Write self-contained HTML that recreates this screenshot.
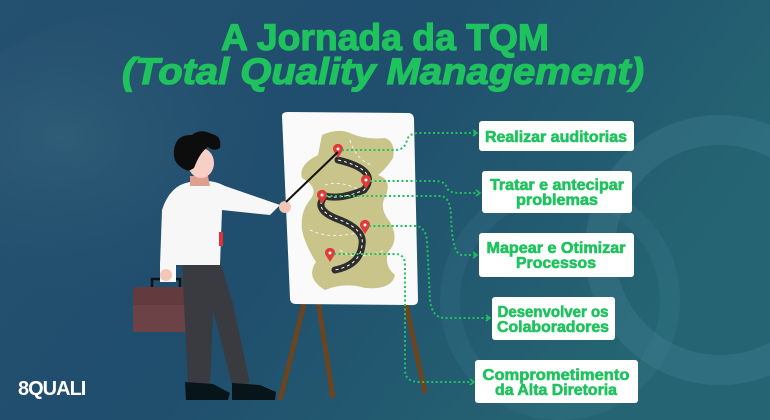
<!DOCTYPE html>
<html><head><meta charset="utf-8"><style>
html,body{margin:0;padding:0}
body{width:770px;height:420px;overflow:hidden;font-family:"Liberation Sans",sans-serif;background:#1f4a68}
svg{display:block}
</style></head><body>
<svg width="770" height="420" viewBox="0 0 770 420" xmlns="http://www.w3.org/2000/svg">
<defs>
<linearGradient id="bg" x1="0" y1="0" x2="1" y2="0.4">
<stop offset="0" stop-color="#2a5573"/><stop offset="0.5" stop-color="#22506f"/><stop offset="1" stop-color="#2a7478"/>
</linearGradient>
<radialGradient id="tr" cx="0.3" cy="0.4" r="0.6"><stop offset="0" stop-color="#3a6a80" stop-opacity="0.5"/><stop offset="1" stop-color="#1f4a68" stop-opacity="0"/></radialGradient>
</defs>
<rect width="770" height="420" fill="url(#bg)"/>
<rect width="770" height="420" fill="#1d4a6a" opacity="0.35"/>
<ellipse cx="150" cy="170" rx="220" ry="160" fill="url(#tr)"/>
<circle cx="720" cy="250" r="120" fill="none" stroke="#4d8aa0" stroke-opacity="0.25" stroke-width="30"/>
<circle cx="560" cy="300" r="110" fill="none" stroke="#4d8aa0" stroke-opacity="0.15" stroke-width="20"/>
<g fill="#1ec35e" stroke="#1ec35e" stroke-width="1.2" font-family="Liberation Sans" font-weight="bold" font-size="37" text-anchor="middle">
<text x="385" y="50" textLength="328" lengthAdjust="spacingAndGlyphs">A Jornada da TQM</text>
<text x="383" y="84" font-style="italic" textLength="522" lengthAdjust="spacingAndGlyphs">(Total Quality Management)</text>
</g>
<!-- easel legs -->
<line x1="305" y1="300" x2="280" y2="400" stroke="#6b4420" stroke-width="5"/>
<line x1="318" y1="300" x2="333" y2="398" stroke="#6b4420" stroke-width="5"/>
<line x1="405" y1="300" x2="425" y2="393" stroke="#6b4420" stroke-width="5"/>
<!-- board -->
<path d="M282 116 Q282 112 288 112 L408 113 Q414 113 414 120 L418 300 Q418 306 410 305 L296 304 Q290 304 290 298 Z" fill="#fafafa"/>
<!-- map -->
<path d="M322 135 Q338 128 350 133 Q365 140 385 138 Q396 142 393 158 Q385 170 378 175 Q392 180 386 195 Q378 208 390 222 Q400 240 388 252 Q384 266 395 275 Q392 290 365 288 Q345 282 325 290 Q305 278 316 262 Q305 245 302 230 Q300 212 310 200 Q320 188 302 178 Q298 165 318 155 Z" fill="#c8c48a"/>
<g stroke="#fff" stroke-width="1" stroke-dasharray="3 3" fill="none" opacity="0.8">
<path d="M325 185 Q340 180 360 190"/><path d="M310 230 Q330 240 360 232"/><path d="M340 250 Q355 262 385 250"/><path d="M350 140 Q356 160 372 165"/>
</g>
<path d="M338 160 Q380 170 364 190 Q340 200 325 196 Q312 210 340 220 Q365 230 362 245 Q360 265 335 270" fill="none" stroke="#2d2d2d" stroke-width="7" stroke-linecap="round"/>
<path d="M338 160 Q380 170 364 190 Q340 200 325 196 Q312 210 340 220 Q365 230 362 245 Q360 265 335 270" fill="none" stroke="#fff" stroke-width="1" stroke-dasharray="3 3"/>
<g fill="#e03a3a">
<path d="M338 158 L333.5 151 A5 5 0 1 1 342.5 151 Z"/>
<path d="M366 189 L361.5 182 A5 5 0 1 1 370.5 182 Z"/>
<path d="M322 204 L317.5 197 A5 5 0 1 1 326.5 197 Z"/>
<path d="M365 234 L360.5 227 A5 5 0 1 1 369.5 227 Z"/>
<path d="M330 262 L325.5 255 A5 5 0 1 1 334.5 255 Z"/>
</g>
<g fill="#fff"><circle cx="338" cy="149" r="1.5"/><circle cx="366" cy="180" r="1.5"/><circle cx="322" cy="195" r="1.5"/><circle cx="365" cy="225" r="1.5"/><circle cx="330" cy="253" r="1.5"/></g>
<!-- connectors -->
<g fill="none" stroke="#1ec35e" stroke-width="2" stroke-dasharray="2 2.5">
<path d="M342 150 L395 150 Q405 150 407 140 Q409 133 420 133 L475 133"/>
<path d="M370 181 L435 181 Q445 181 447 188 Q449 193 460 193 L478 193"/>
<path d="M326 196 L440 196 Q450 196 451 215 Q452 255 462 255 L475 255"/>
<path d="M369 226 L415 226 Q425 226 427 240 L430 300 Q432 318 445 318 L488 318"/>
<path d="M334 254 L395 254 Q405 254 405 265 L405 370 Q405 382 420 382 L472 382"/>
</g>
<g fill="none" stroke="#1ec35e" stroke-width="1.5">
<path d="M473 130 L477 133 L473 136"/><path d="M476 190 L480 193 L476 196"/><path d="M473 252 L477 255 L473 258"/><path d="M486 315 L490 318 L486 321"/><path d="M470 379 L474 382 L470 385"/>
</g>
<!-- boxes -->
<g fill="#fff">
<rect x="479" y="121" width="155" height="30" rx="3"/>
<rect x="482" y="171" width="150" height="42" rx="3"/>
<rect x="479" y="233" width="155" height="44" rx="3"/>
<rect x="492" y="297" width="123" height="43" rx="3"/>
<rect x="475" y="360" width="163" height="43" rx="3"/>
</g>
<g font-family="Liberation Sans" font-weight="bold" font-size="15.5" fill="#1ec35e" stroke="#1ec35e" stroke-width="0.6" text-anchor="middle" lengthAdjust="spacingAndGlyphs">
<text x="556" y="142" textLength="142" lengthAdjust="spacingAndGlyphs">Realizar auditorias</text>
<text x="557" y="190" textLength="134" lengthAdjust="spacingAndGlyphs">Tratar e antecipar</text><text x="557" y="205" textLength="82" lengthAdjust="spacingAndGlyphs">problemas</text>
<text x="556" y="253" textLength="139" lengthAdjust="spacingAndGlyphs">Mapear e Otimizar</text><text x="556" y="268" textLength="80" lengthAdjust="spacingAndGlyphs">Processos</text>
<text x="553" y="317" textLength="111" lengthAdjust="spacingAndGlyphs">Desenvolver os</text><text x="553" y="332" textLength="112" lengthAdjust="spacingAndGlyphs">Colaboradores</text>
<text x="556" y="380" textLength="147" lengthAdjust="spacingAndGlyphs">Comprometimento</text><text x="556" y="395" textLength="122" lengthAdjust="spacingAndGlyphs">da Alta Diretoria</text>
</g>
<!-- person -->
<rect x="133" y="287" width="54" height="45" rx="3" fill="#633a3e"/>
<rect x="133" y="305" width="54" height="27" rx="2" fill="#6d4246"/>
<path d="M152 287 L152 279 L180 279 L180 287" fill="none" stroke="#111" stroke-width="2.5"/>
<path d="M182 262 L220 262 L232 300 L250 383 L232 385 L213 310 L210 385 L188 385 Z" fill="#393b41"/>
<path d="M185 382 L213 384 L230 393 L228 400 L186 400 Z" fill="#07151b"/>
<path d="M232 383 L260 385 L276 392 L275 400 L232 400 Z" fill="#07151b"/>
<path d="M190 182 Q170 185 162 210 L160 265 L220 265 L222 210 L270 215 L280 205 L225 186 Q210 178 190 182 Z" fill="#f7f7f7"/>
<rect x="160" y="262" width="16" height="20" fill="#f7f7f7"/>
<circle cx="166" cy="275" r="6" fill="#f5c5b5"/>
<circle cx="285" cy="207" r="6" fill="#f5c5b5"/>
<rect x="219" y="232" width="4" height="14" fill="#d33"/>
<path d="M190 176 L208 176 L210 186 L190 186 Z" fill="#e0a090"/>
<ellipse cx="201" cy="163" rx="13" ry="15" fill="#f8cfc4"/>
<path d="M174 150 Q176 134 192 135 Q200 128 212 134 Q222 136 220 148 Q214 152 208 147 Q200 152 194 168 Q188 172 186 170 Q172 164 174 150 Z" fill="#0d0d0d"/>
<line x1="286" y1="202" x2="338" y2="152" stroke="#111" stroke-width="2"/>
<!-- logo -->
<text x="18" y="395" font-family="Liberation Sans" font-weight="bold" font-size="20" fill="#fff" letter-spacing="-1">8QUALI</text>
</svg>
</body></html>
